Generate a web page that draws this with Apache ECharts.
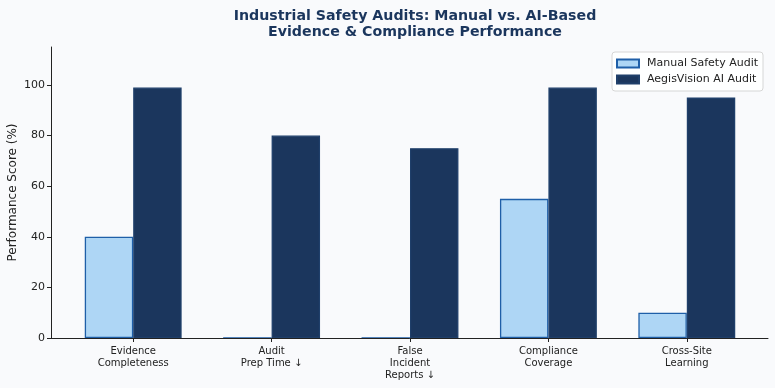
<!DOCTYPE html>
<html><head><meta charset="utf-8">
<script src="https://cdn.jsdelivr.net/npm/echarts@6/dist/echarts.min.js"></script>
<style>html,body{margin:0;padding:0;background:#f9fafc}#c{width:775px;height:388px}</style>
</head><body><div id="c"></div>
<script>
const categories = ["Evidence\nCompleteness", "Audit\nPrep Time \u2193", "False\nIncident\nReports \u2193", "Compliance\nCoverage", "Cross-Site\nLearning"];
const manualValues = [40, 0, 0, 55, 10];
const aiValues = [99, 80, 75, 99, 95];
const yTicks = [0, 20, 40, 60, 80, 100];
const seriesNames = ["Manual Safety Audit", "AegisVision AI Audit"];

const chart = echarts.init(document.getElementById('c'));
const font = 'DejaVu Sans';
const option = {
  backgroundColor: '#f9fafc',
  animation: false,
  title: {
    text: 'Industrial Safety Audits: Manual vs. AI-Based\nEvidence & Compliance Performance',
    left: 410, top: 3, textAlign: 'center',
    textStyle: {fontFamily: font, fontSize: 14.2, fontWeight: 'bold', color: '#1b365d', lineHeight: 16}
  },
  legend: {
    orient: 'vertical', right: 12, top: 52, icon: 'rect',
    itemWidth: 22, itemHeight: 8, itemGap: 5,
    padding: [6, 5, 6, 4],
    borderColor: '#d6d6d6', borderWidth: 1, borderRadius: 3,
    backgroundColor: 'rgba(255,255,255,0.85)',
    textStyle: {fontFamily: font, fontSize: 11, color: '#222', padding: [0, 0, 0, 3]},
    data: seriesNames
  },
  grid: [
    {left: 51, right: 7, top: 47, bottom: 50, outerBoundsMode: 'none', containLabel: false},
    {left: 64, right: 19, top: 47, bottom: 50, outerBoundsMode: 'none', containLabel: false}
  ],
  xAxis: [
    {type: 'value', gridIndex: 0, min: 0, max: 1, z: 5,
     axisLine: {show: true, lineStyle: {color: '#222', width: 1}},
     axisTick: {show: false}, axisLabel: {show: false}, splitLine: {show: false}},
    {type: 'category', gridIndex: 1, data: categories,
     axisLine: {show: false},
     axisTick: {show: true, alignWithLabel: true, length: 4, lineStyle: {color: '#222'}},
     axisLabel: {fontFamily: font, fontSize: 10, color: '#222', lineHeight: 12, margin: 7, interval: 0},
     splitLine: {show: false}}
  ],
  yAxis: [
    {type: 'value', gridIndex: 0, min: 0, max: 115, z: 5,
     name: 'Performance Score (%)', nameLocation: 'middle', nameGap: 32, nameMoveOverlap: false,
     nameTextStyle: {fontFamily: font, fontSize: 12, color: '#222'},
     axisLine: {show: true, lineStyle: {color: '#222', width: 1}},
     axisTick: {show: true, length: 4, customValues: yTicks, lineStyle: {color: '#222'}},
     axisLabel: {fontFamily: font, fontSize: 11, color: '#222', margin: 6, customValues: yTicks},
     splitLine: {show: false}},
    {type: 'value', gridIndex: 1, min: 0, max: 115, show: false}
  ],
  series: [
    {name: seriesNames[0], type: 'bar', xAxisIndex: 1, yAxisIndex: 1, data: manualValues, z: 1,
     barWidth: '35%', barGap: '0%',
     itemStyle: {color: '#aed6f5', borderColor: '#1f5fa8', borderWidth: 1.3}},
    {name: seriesNames[1], type: 'bar', xAxisIndex: 1, yAxisIndex: 1, data: aiValues, z: 1,
     barWidth: '35%', barGap: '0%',
     itemStyle: {color: '#1b365d', borderColor: '#1f3f6a', borderWidth: 1.3}}
  ]
};
chart.setOption(option);
</script></body></html>
